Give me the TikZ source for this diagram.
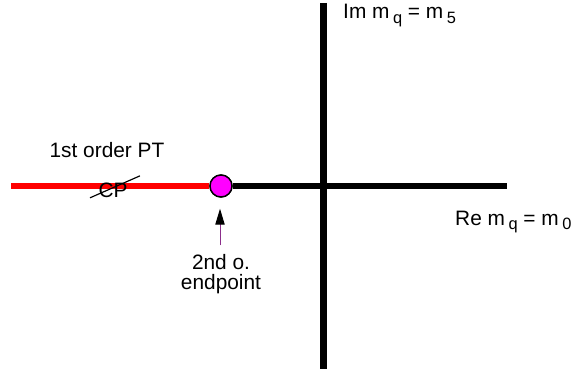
\documentclass[tikz,border=0pt]{standalone}
\usepackage{fontspec}
\setmainfont{Liberation Sans}
\usepackage{tikz}
\usetikzlibrary{arrows.meta, positioning, calc}
\definecolor{AxisRed}{HTML}{FF0000}
\definecolor{PointMagenta}{HTML}{FF00FF}
\definecolor{ShaftPurple}{HTML}{8B2E8B}
\newcommand{\lowsub}[1]{\,\raisebox{-0.45ex}{\fontsize{14}{14}\selectfont #1}}
\tikzset{
    axis/.style={line width=5.2pt, draw=black},
    axis_r/.style={line width=5.6pt, draw=AxisRed},
    endpt/.style={circle, draw=black, line width=1.2pt, fill=PointMagenta, minimum size=0.66cm, inner sep=0pt},
    arr_p/.style={-{Triangle[length=0.48cm, width=0.28cm, black]}, line width=0.8pt, draw=ShaftPurple},
    lbl/.style={font=\fontsize{17.8}{16.5}\selectfont, inner sep=0pt},
    slash/.style={line width=1pt, draw=black},
}
\begin{document}
\begin{tikzpicture}[x=0.03cm, y=-0.03cm]
\useasboundingbox (0,0) rectangle (571,372);
% axes
\coordinate (left) at (11,186);
\coordinate (right) at (507,186);
\coordinate (top) at (323.5,3);
\coordinate (bottom) at (323.5,369);
\node[endpt] (pt) at (221,186) {};
\draw[axis_r] (left) -- (pt.west);
\draw[axis] (pt.east) -- (right);
\draw[axis] (top) -- (bottom);
\node[endpt] at (pt) {};
% labels
\node[lbl, anchor=base west] (im) at (343,19) {Im m\lowsub{q} = m\lowsub{5}};
\node[lbl, anchor=base west] (re) at (455,225) {Re m\lowsub{q} = m\lowsub{0}};
\node[lbl, anchor=base] (pt1) at (107,157) {1st order PT};
\node[lbl, anchor=base] (cp) at (113,197) {CP};
\draw[slash] ($(cp.center)+(-23,8)$) -- ($(cp.center)+(27,-14)$);
% endpoint
\node[lbl, align=center, anchor=base] (end2) at (221,289) {2nd o.\\endpoint};
\draw[arr_p] ($(end2.north)+(-1,-9)$) -- ($(pt.south)+(-1,11)$);
\end{tikzpicture}
\end{document}
